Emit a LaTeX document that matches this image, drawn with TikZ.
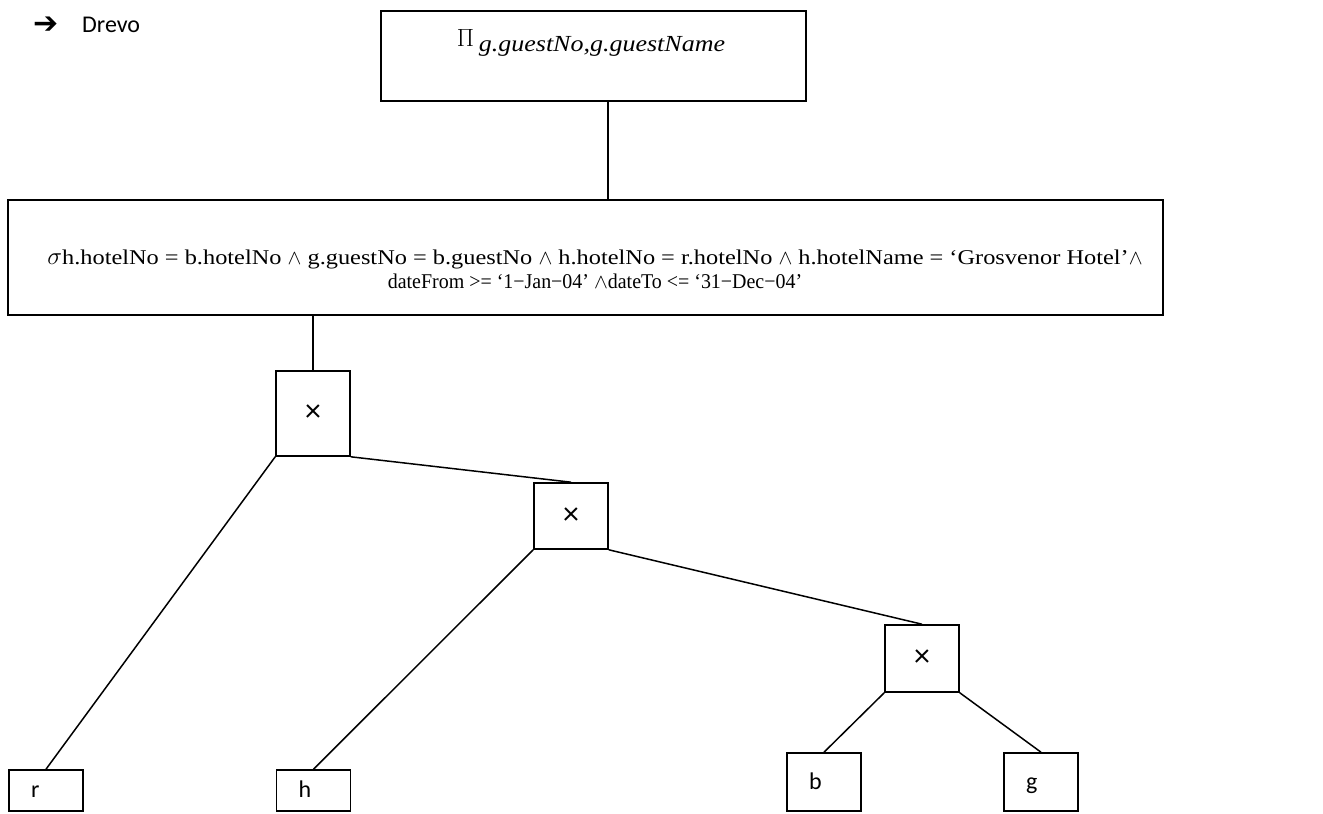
\documentclass[tikz,border=0pt]{standalone}
\usepackage{fontspec}
\setmainfont{Liberation Serif}
\newfontfamily\wideserif{Liberation Serif}[FakeStretch=1.16]
\newfontfamily\narrowserif{Liberation Serif}[FakeStretch=0.95]
\newfontfamily\wideital{Liberation Serif Italic}[FakeStretch=1.13]
\newfontfamily\sans{Carlito}
\newfontfamily\symb{DejaVu Sans}
\begin{document}
\begin{tikzpicture}[x=1pt,y=-1pt,
  frame/.style={draw, line width=1.6pt, inner sep=0pt},
  opbox/.style={frame, minimum width=74pt, minimum height=#1,
    font=\sans\fontsize{32}{36}\selectfont},
  leafbox/.style={frame, minimum width=74pt, minimum height=#1,
    text width=30pt, inner xsep=22pt, align=left,
    text height=16pt, text depth=2pt,
    font=\sans\fontsize{24}{28}\selectfont},
  edge/.style={line width=1.5pt}]
\useasboundingbox (0,0) rectangle (1323,814);

% heading
\node[anchor=west, inner sep=0pt, font=\symb\bfseries\fontsize{30}{34}\selectfont] (bullet) at (33,25) {➔};
\node[anchor=west, inner sep=0pt, font=\sans\fontsize{24}{28}\selectfont] (title) at (82,25) {Drevo};

% projection
\node[frame, minimum width=425pt, minimum height=90pt] (pi) at (593.5,56) {};
\node[inner sep=0pt, anchor=base] (pitext) at (591,46)
  {\fontsize{28}{28}\selectfont$\Pi$\,\raisebox{-5pt}{\wideital\fontsize{23}{26}\selectfont g.guestNo,g.guestName}};

% selection
\node[frame, minimum width=1155pt, minimum height=115pt] (sig) at (585.5,257.5) {};
\node[inner sep=0pt, align=center, font=\wideserif\fontsize{21}{24}\selectfont] (sigtext) at (595,269)
  {{\fontsize{28}{24}\selectfont$\sigma$}h.hotelNo = b.hotelNo $\wedge$ g.guestNo = b.guestNo $\wedge$ h.hotelNo = r.hotelNo $\wedge$ h.hotelName = ‘Grosvenor Hotel’$\wedge$\\
   \narrowserif dateFrom >= ‘1−Jan−04’ $\wedge$dateTo <= ‘31−Dec−04’};

% products
\node[opbox=85pt] (x1) at (313,413.5) {×};
\node[opbox=66pt] (x2) at (571,516) {×};
\node[opbox=67pt] (x3) at (922,658.5) {×};

% relations
\node[leafbox=41pt] (r) at (46,790.5) {r};
\node[leafbox=41pt] (h) at (313.5,790.5) {h};
\node[leafbox=58pt] (b) at (824,782) {b};
\node[leafbox=58pt] (g) at (1041,782) {g};

% connectors
\draw[edge] ([xshift=14.5pt]pi.south) -- ([xshift=14.5pt]pi.south |- sig.north);
\draw[edge] (sig.south -| x1.north) -- (x1.north);
\draw[edge] (x1.south west) -- (r.north);
\draw[edge] (x1.south east) -- (x2.north);
\draw[edge] (x2.south west) -- (h.north);
\draw[edge] (x2.south east) -- (x3.north);
\draw[edge] (x3.south west) -- (b.north);
\draw[edge] (x3.south east) -- (g.north);
\end{tikzpicture}
\end{document}
